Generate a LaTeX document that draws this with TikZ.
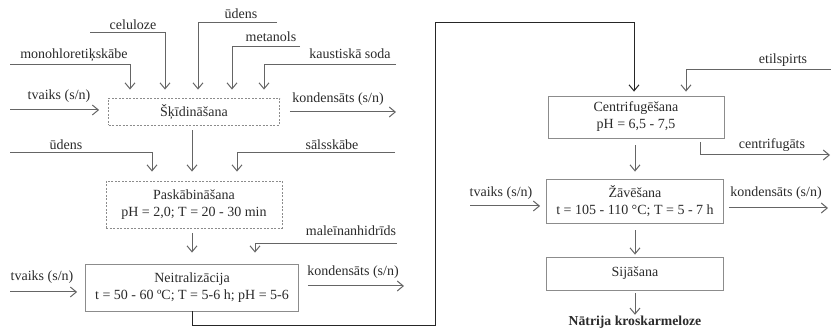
\documentclass[tikz,border=0pt]{standalone}
\usepackage{fontspec}
\setmainfont{Liberation Serif}
\usetikzlibrary{arrows.meta}
\definecolor{lg}{HTML}{656565}
\definecolor{bx}{HTML}{8C8C8C}
\definecolor{tx}{HTML}{2A2A2A}
\definecolor{dk}{HTML}{262626}
\begin{document}
\begin{tikzpicture}[x=1pt,y=-1pt,
  every node/.style={font=\fontsize{14}{17}\selectfont, text=tx, inner sep=0pt},
  box/.style={draw=bx, line width=0.8pt, align=center},
  dbox/.style={box, dash pattern=on 2pt off 1.5pt},
  arr/.style={draw=lg, line width=1pt, -{Straight Barb[length=6pt,width=10pt]}}]
\useasboundingbox (0,0) rectangle (831,328);

% boxes
\node[dbox, minimum width=171pt, minimum height=27pt] (skid) at (194,111.5) {Šķīdināšana};
\node[dbox, minimum width=176pt, minimum height=47pt] (pask) at (194,204.5) {Paskābināšana\\pH = 2,0; T = 20 - 30 min};
\node[box, minimum width=213pt, minimum height=47pt] (neit) at (192,287.5) {Neitralizācija\\t = 50 - 60 ºC; T = 5-6 h; pH = 5-6};
\node[box, minimum width=176pt, minimum height=42pt] (cent) at (636,117) {Centrifugēšana\\pH = 6,5 - 7,5};
\node[box, minimum width=177pt, minimum height=44pt] (zav) at (635,201) {Žāvēšana\\t = 105 - 110 °C; T = 5 - 7 h};
\node[box, minimum width=177pt, minimum height=33pt] (sij) at (635,273.5) {Sijāšana};
\node[font=\bfseries\fontsize{13.7}{16}\selectfont, anchor=base] (prod) at (635,325.5) {Nātrija kroskarmeloze};

% labels
\node (t1) at (74,55) {monohloretiķskābe};
\node (t2) at (133,25) {celuloze};
\node (t3) at (241,14) {ūdens};
\node (t4) at (271,37) {metanols};
\node (t5) at (350,54) {kaustiskā soda};
\node (t6) at (59,96) {tvaiks (s/n)};
\node (t7) at (338,99) {kondensāts (s/n)};
\node (t8) at (66,145) {ūdens};
\node (t9) at (332,145) {sālsskābe};
\node (t10) at (351,231) {maleīnanhidrīds};
\node (t11) at (42,277) {tvaiks (s/n)};
\node (t12) at (353,272) {kondensāts (s/n)};
\node (t13) at (783,60) {etilspirts};
\node (t14) at (772,145) {centrifugāts};
\node (t15) at (501,193) {tvaiks (s/n)};
\node (t16) at (776,193) {kondensāts (s/n)};

% free ends
\coordinate (m1) at (10,65);
\coordinate (m2) at (90,33);
\coordinate (m3) at (277,23);
\coordinate (m4) at (300,47);
\coordinate (m5) at (396,65);
\coordinate (tv1) at (10,110);
\coordinate (k1) at (396,112);
\coordinate (u2) at (10,153);
\coordinate (s2) at (395,153);
\coordinate (ma) at (397,244);
\coordinate (tv2) at (10,292);
\coordinate (k2) at (404,286);
\coordinate (b1) at (435,326);
\coordinate (b2) at (435,23);
\coordinate (et) at (831,70);
\coordinate (cf) at (830,155);
\coordinate (tv3) at (470,206);
\coordinate (k3) at (828,208);

% inputs to skid
\draw[arr, shorten >=8pt] (m1) -| ([xshift=-64pt]skid.north);
\draw[arr, shorten >=8pt] (m2) -| ([xshift=-29pt]skid.north);
\draw[arr, shorten >=8pt] (m3) -| ([xshift=4pt]skid.north);
\draw[arr, shorten >=8pt] (m4) -| ([xshift=38pt]skid.north);
\draw[arr, shorten >=8pt] (m5) -| ([xshift=70pt]skid.north);
\draw[arr, shorten >=9pt] (tv1) -- (skid.west |- tv1);
\draw[arr, shorten <=10pt] (skid.east |- k1) -- (k1);

% skid -> pask
\draw[arr, shorten <=5pt, shorten >=9pt] (skid.south -| neit.north) -- (pask.north -| neit.north);
\draw[arr, shorten >=9pt] (u2) -| ([xshift=-42pt]pask.north);
\draw[arr, shorten >=9pt] (s2) -| ([xshift=43pt]pask.north);

% pask -> neit
\draw[arr, shorten <=5pt, shorten >=11pt] (pask.south -| neit.north) -- (neit.north);
\draw[arr, shorten >=11pt] (ma) -| ([xshift=63pt]neit.north);
\draw[arr, shorten >=8pt] (tv2) -- (neit.west |- tv2);
\draw[arr, shorten <=9pt] (neit.east |- k2) -- (k2);

% long connector
\draw[arr, draw=dk, shorten >=4pt] (neit.south) |- (b1) -- (b2) -| ([xshift=-2pt]cent.north);

% right side
\draw[arr, shorten >=4pt] (et) -| ([xshift=50pt]cent.north);
\draw[arr, shorten <=4pt] ([xshift=64pt]cent.south) |- (cf);
\draw[arr, shorten <=7pt, shorten >=7pt] (cent.south -| zav.north) -- (zav.north);
\draw[arr, shorten >=6pt] (tv3) -- (zav.west |- tv3);
\draw[arr, shorten <=5pt] (zav.east |- k3) -- (k3);
\draw[arr, shorten <=7pt, shorten >=2pt] (zav.south) -- (sij.north);
\draw[arr, shorten <=3pt, shorten >=1pt] (sij.south) -- (prod.north);
\end{tikzpicture}
\end{document}
